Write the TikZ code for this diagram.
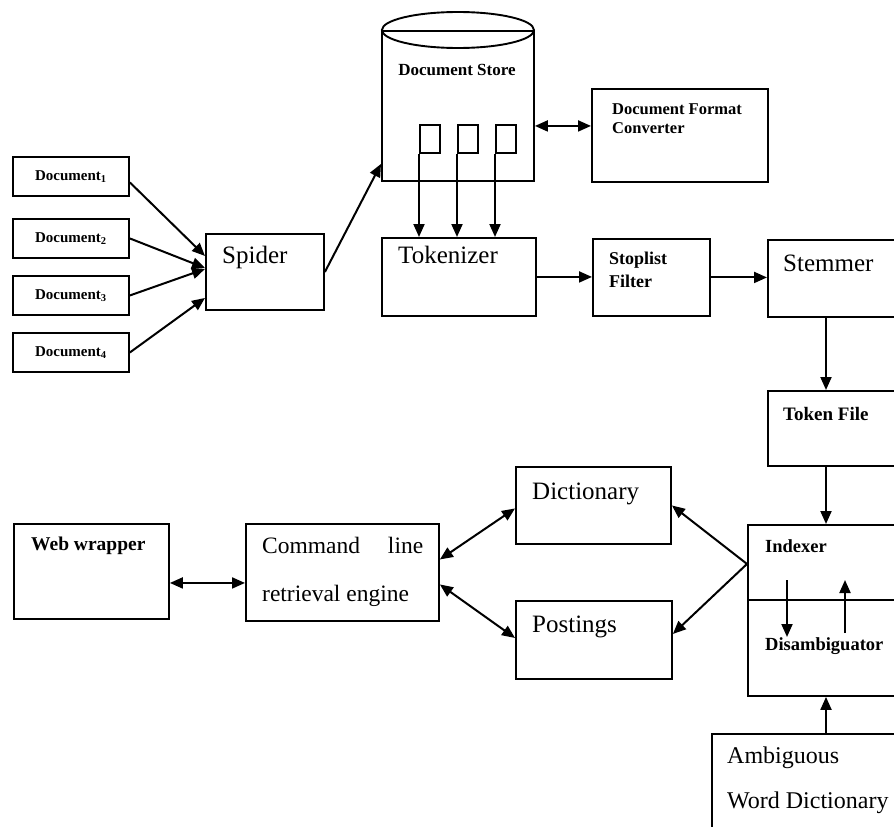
\documentclass[tikz,border=0pt]{standalone}
\usepackage{fontspec}
\setmainfont{Liberation Serif}
\usetikzlibrary{arrows.meta}

\tikzset{
  box/.style={rectangle, draw=black, line width=1.9pt, inner sep=0pt, anchor=north west},
  arr/.style={-{Triangle[length=13pt,width=11pt]}, line width=2pt},
  darr/.style={{Triangle[length=13pt,width=11pt]}-{Triangle[length=13pt,width=11pt]}, line width=2pt},
  big/.style={font=\fontsize{25}{29}\selectfont, anchor=base west, inner sep=0pt},
  small/.style={font=\bfseries\fontsize{18}{22}\selectfont, anchor=base west, inner sep=0pt}
}

\begin{document}
\begin{tikzpicture}[x=1pt, y=-1pt]
    \useasboundingbox (0,0) rectangle (894,827);
    \clip (0,0) rectangle (894,827);

    % input documents and spider
    \foreach \i/\y in {1/156, 2/218, 3/275, 4/332}
        \node[box, minimum width=116pt, minimum height=39pt, font=\bfseries\fontsize{15}{18}\selectfont] (doc\i) at (12,\y) {Document\textsubscript{\i}};
    \node[box, minimum width=118pt, minimum height=76pt] (spider) at (205,233) {};
    \node[big] (spider-t) at (222,263) {Spider};

    % document store
    \node[box, minimum width=152pt, minimum height=150pt] (store) at (381,30) {};
    \draw[line width=1.9pt] (store.north) ellipse [x radius=76pt, y radius=18pt];
    \node[small, anchor=base, font=\bfseries\fontsize{17}{20}\selectfont] (store-t) at (457,75) {Document Store};
    \foreach \i/\x in {1/419, 2/457, 3/495}
        \node[box, minimum width=20pt, minimum height=28pt] (r\i) at (\x,124) {};

    \node[box, minimum width=176pt, minimum height=93pt] (conv) at (591,88) {};
    \node[small, font=\bfseries\fontsize{16.5}{20}\selectfont] (conv-t1) at (612,114) {Document Format};
    \node[small, font=\bfseries\fontsize{16.5}{20}\selectfont] (conv-t2) at (612,133) {Converter};

    % token pipeline
    \node[box, minimum width=154pt, minimum height=78pt] (tok) at (381,237) {};
    \node[big] (tok-t) at (398,263) {Tokenizer};
    \node[box, minimum width=117pt, minimum height=77pt] (stop) at (592,238) {};
    \node[small] (stop-t1) at (609,264) {Stoplist};
    \node[small] (stop-t2) at (609,287) {Filter};
    \node[box, minimum width=200pt, minimum height=77pt] (stem) at (767,239) {};
    \node[big] (stem-t) at (783,271) {Stemmer};
    \node[box, minimum width=200pt, minimum height=75pt] (tfile) at (767,390) {};
    \node[small, font=\bfseries\fontsize{19}{22}\selectfont] (tfile-t) at (783,420) {Token File};

    % indexer
    \node[box, minimum width=220pt, minimum height=171pt] (indexer) at (747,524) {};
    \draw[line width=1.9pt] (indexer.west |- 0,600) -- (indexer.east |- 0,600);
    \node[small, font=\bfseries\fontsize{18.5}{22}\selectfont] (indexer-t) at (765,552) {Indexer};
    \node[small, font=\bfseries\fontsize{18.5}{22}\selectfont] (disamb-t) at (765,650) {Disambiguator};
    \node[box, minimum width=240pt, minimum height=160pt] (ambig) at (711,733) {};
    \node[big, font=\fontsize{24}{28}\selectfont] (ambig-t1) at (727,763) {Ambiguous};
    \node[big, font=\fontsize{24}{28}\selectfont] (ambig-t2) at (727,808) {Word Dictionary};

    % retrieval side
    \node[box, minimum width=155pt, minimum height=95pt] (web) at (13,523) {};
    \node[small, font=\bfseries\fontsize{19.5}{22}\selectfont] (web-t) at (31,550) {Web wrapper};
    \node[box, minimum width=193pt, minimum height=97pt] (cmd) at (245,523) {};
    \node[big, font=\fontsize{23.5}{28}\selectfont] (cmd-t1) at (262,553) {\makebox[161pt][s]{Command line}};
    \node[big, font=\fontsize{23.5}{28}\selectfont] (cmd-t2) at (262,601) {retrieval engine};
    \node[box, minimum width=155pt, minimum height=77pt] (dict) at (515,466) {};
    \node[big] (dict-t) at (532,499) {Dictionary};
    \node[box, minimum width=156pt, minimum height=78pt] (post) at (515,600) {};
    \node[big] (post-t) at (532,632) {Postings};

    \coordinate (sx) at (826,0);
    \coordinate (sc) at ([yshift=-20pt]store.east);
    \coordinate (ix) at ([yshift=46.5pt]indexer.west);
    \coordinate (wc) at ([yshift=-11.5pt]web.east);
    \coordinate (dn) at (787,580);
    \coordinate (up) at (845,633);

    % connectors
    \draw[arr] ([yshift=-6pt]doc1.east) -- ([yshift=16pt]spider.west);
    \draw[arr] (doc2.east) -- ([yshift=4pt]spider.west);
    \draw[arr] (doc3.east) -- ([yshift=3pt]spider.west);
    \draw[arr] (doc4.east) -- ([yshift=-26pt]spider.west);
    \draw[arr] (spider.east) -- ([yshift=18pt]store.south west);
    \draw[darr] (sc) -- (sc -| conv.west);
    \foreach \i in {1,2,3}
        \draw[arr] (r\i.south west) -- (r\i.south west |- tok.north);
    \draw[arr] (tok.east) -- (tok.east -| stop.west);
    \draw[arr] (stop.east) -- (stop.east -| stem.west);
    \draw[arr] (stem.south -| sx) -- (tfile.north -| sx);
    \draw[arr] (tfile.south -| sx) -- (indexer.north -| sx);
    \draw[arr] (ambig.north -| sx) -- (indexer.south -| sx);
    \draw[arr] (dn) -- ++(0,57);
    \draw[arr] (up) -- ++(0,-53);
    \draw[arr] (ix) -- (dict.east);
    \draw[arr] (ix) -- ([yshift=6pt]post.east);
    \draw[darr] ([yshift=13pt]cmd.east) -- ([yshift=-3pt]dict.west);
    \draw[darr] ([yshift=-12pt]cmd.east) -- ([yshift=2pt]post.west);
    \draw[darr] (wc) -- (wc -| cmd.west);
\end{tikzpicture}
\end{document}
